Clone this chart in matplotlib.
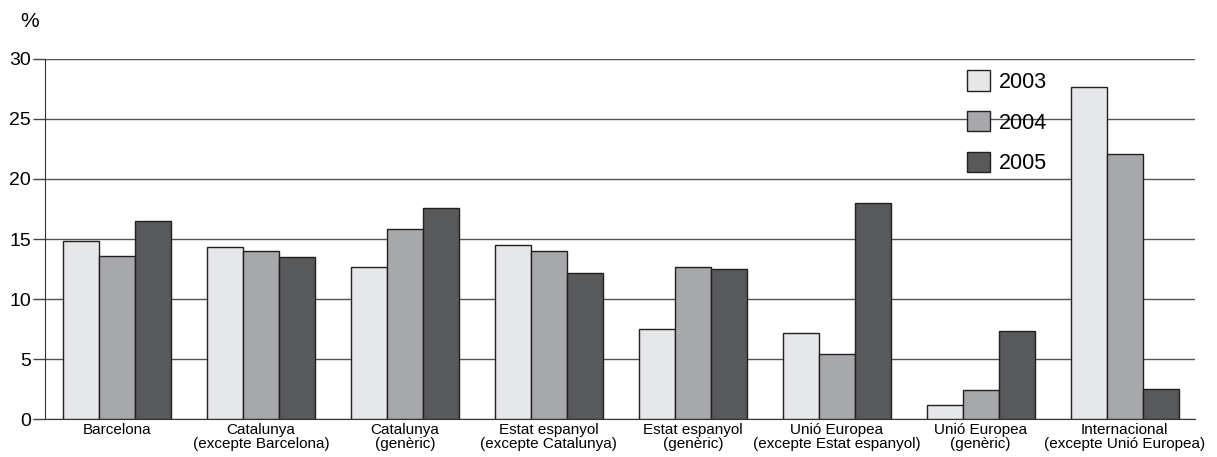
import matplotlib.pyplot as plt
import numpy as np

plt.rcParams['font.family'] = ['Liberation Sans', 'DejaVu Sans']

categories = ['Barcelona', 'Catalunya\n(excepte Barcelona)', 'Catalunya\n(genèric)',
              'Estat espanyol\n(excepte Catalunya)', 'Estat espanyol\n(genèric)',
              'Unió Europea\n(excepte Estat espanyol)', 'Unió Europea\n(genèric)',
              'Internacional\n(excepte Unió Europea)']
v2003 = [14.8, 14.3, 12.7, 14.5, 7.5, 7.2, 1.2, 27.7]
v2004 = [13.6, 14.0, 15.8, 14.0, 12.7, 5.4, 2.4, 22.1]
v2005 = [16.5, 13.5, 17.6, 12.2, 12.5, 18.0, 7.3, 2.5]
years = ['2003', '2004', '2005']
colors = ['#e6e7e9', '#a7a8ab', '#58595b']

fig = plt.figure(figsize=(12.17, 4.57), dpi=100)
ax = fig.add_axes([0.037, 0.083, 0.945, 0.788])

x = np.arange(len(categories))
w = 0.25
for i, (vals, yr) in enumerate(zip([v2003, v2004, v2005], years)):
    ax.bar(x + (i - 1) * w, vals, w, color=colors[i], edgecolor='#231f20',
           linewidth=1, label=yr, zorder=3)

ax.set_xlim(-0.5, 7.49)
ax.set_ylim(0, 30)
ax.set_yticks(range(0, 31, 5))
ax.yaxis.grid(True, color='#555555', linewidth=1, zorder=0)
ax.set_axisbelow(True)
ax.set_xticks(x)
ax.set_xticklabels(categories, fontsize=11, linespacing=1.0)
ax.tick_params(axis='x', length=0, pad=3)
ax.tick_params(axis='y', length=9, width=1, color='#444444', labelsize=14, pad=1)
for s in ['top', 'right']:
    ax.spines[s].set_visible(False)
ax.spines['left'].set_color('#333333')
ax.spines['bottom'].set_color('#333333')

leg = ax.legend(loc='upper left', bbox_to_anchor=(0.785, 1.022), frameon=False,
                fontsize=15.5, handlelength=1.07, handleheight=1.07,
                labelspacing=0.85, handletextpad=0.4)

fig.text(0.017, 0.94, '%', fontsize=15)

fig.savefig('out.png', dpi=100)
